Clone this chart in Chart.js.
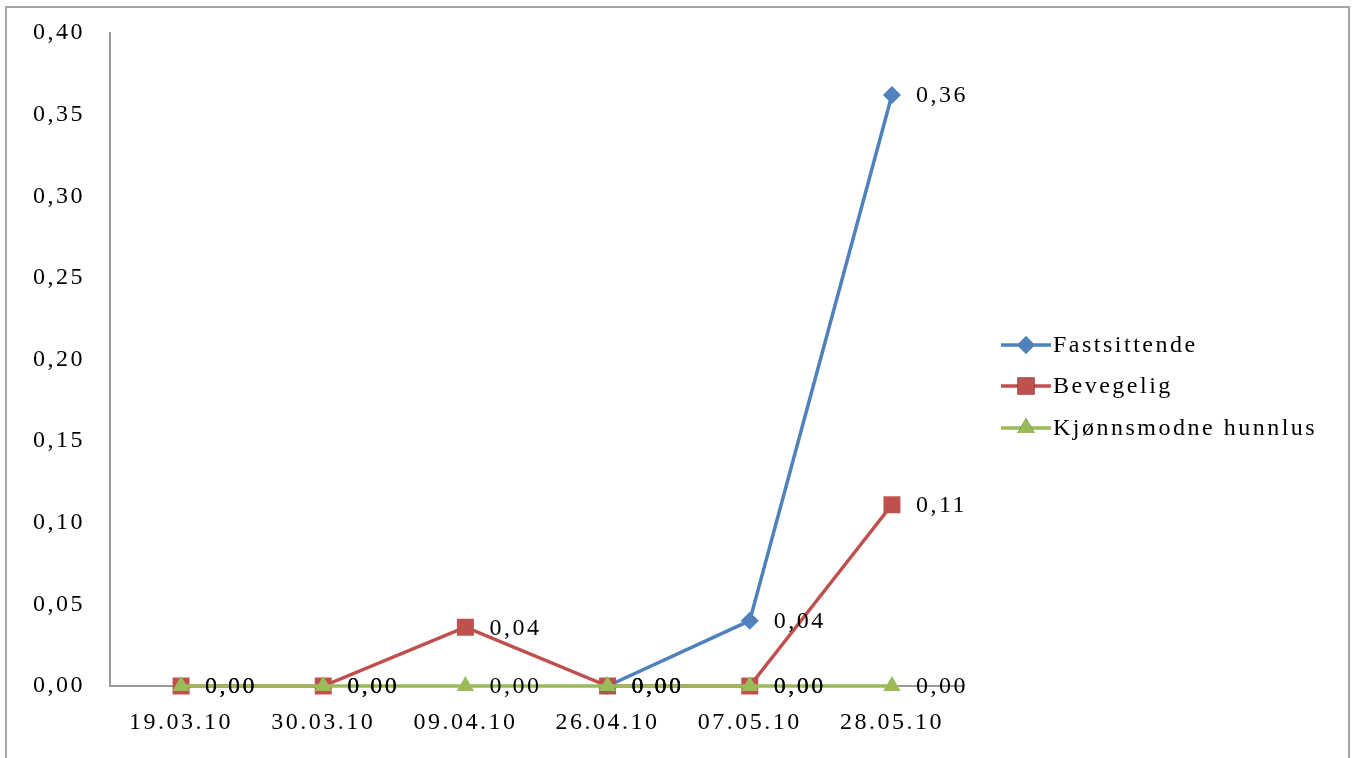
<!DOCTYPE html>
<html>
<head>
<meta charset="utf-8">
<script src="https://cdn.jsdelivr.net/npm/chart.js@4/dist/chart.umd.min.js"></script>
<style>
  html, body { margin: 0; padding: 0; background: #fff; }
  #wrap { position: relative; width: 1357px; height: 758px; }
  #frame { position: absolute; left: 5px; top: 6px; width: 1345px; height: 760px; border: 2px solid #a6a6a6; box-sizing: border-box; pointer-events: none; }
</style>
</head>
<body>
<div id="wrap">
  <canvas id="chart" width="1357" height="758"></canvas>
  <div id="frame"></div>
</div>
<script>
const dates = ["19.03.10", "30.03.10", "09.04.10", "26.04.10", "07.05.10", "28.05.10"];
const fastsittende = [null, null, null, 0, 0.04, 0.362];
const bevegelig = [0, 0, 0.036, 0, 0, 0.111];
const kjonnsmodne = [0, 0, 0, 0, 0, 0];
const seriesNames = ["Fastsittende", "Bevegelig", "Kjønnsmodne hunnlus"];
const colors = ["#4f81bd", "#c0504d", "#9bbb59"];
const markers = ["rectRot", "rect", "triangle"];
const markerSize = [9, 12, 10];

const FONT = "'Liberation Serif', 'Times New Roman', serif";
const SPACING = "2.5px";
const fmt = (v) => v.toFixed(2).replace(".", ",");

// the original text is rendered wide, so letter spacing is applied to all canvas text
const wideText = {
  id: "wideText",
  beforeInit(chart) { chart.ctx.letterSpacing = SPACING; },
  beforeDraw(chart) { chart.ctx.letterSpacing = SPACING; },
};

// value labels to the right of each point
const valueLabels = {
  id: "valueLabels",
  afterDatasetsDraw(chart) {
    const ctx = chart.ctx;
    ctx.save();
    ctx.letterSpacing = SPACING;
    ctx.font = "24px " + FONT;
    ctx.fillStyle = "#000";
    ctx.textAlign = "left";
    ctx.textBaseline = "middle";
    chart.data.datasets.forEach((ds, i) => {
      chart.getDatasetMeta(i).data.forEach((pt, j) => {
        if (ds.data[j] == null) return;
        ctx.fillText(fmt(ds.data[j]), pt.x + 24, pt.y + 1);
      });
    });
    ctx.restore();
  }
};

// legend drawn like the spreadsheet one: line with marker, then name
const sideLegend = {
  id: "sideLegend",
  afterDraw(chart) {
    const ctx = chart.ctx;
    const x0 = 1001, rowY = [345, 386, 428];
    ctx.save();
    ctx.letterSpacing = SPACING;
    seriesNames.forEach((name, i) => {
      const y = rowY[i];
      ctx.strokeStyle = colors[i];
      ctx.lineWidth = 3.5;
      ctx.beginPath();
      ctx.moveTo(x0, y);
      ctx.lineTo(x0 + 50, y);
      ctx.stroke();
      Chart.helpers.drawPoint(ctx, { pointStyle: markers[i], radius: markerSize[i], borderWidth: 0 }, x0 + 25, y);
      ctx.fillStyle = colors[i];
      ctx.fill();
      ctx.fillStyle = "#000";
      ctx.font = "24px " + FONT;
      ctx.textBaseline = "middle";
      ctx.fillText(name, x0 + 52, y + 1);
    });
    ctx.restore();
  }
};

const datasets = [fastsittende, bevegelig, kjonnsmodne].map((vals, i) => ({
  label: seriesNames[i],
  data: vals,
  borderColor: colors[i],
  backgroundColor: colors[i],
  borderWidth: 3.5,
  pointStyle: markers[i],
  pointRadius: markerSize[i],
  pointBorderWidth: 0,
  order: 2 - i,
  clip: false,
  tension: 0,
}));

new Chart(document.getElementById("chart").getContext("2d"), {
  type: "line",
  data: { labels: dates, datasets },
  plugins: [wideText, valueLabels, sideLegend],
  options: {
    responsive: false,
    animation: false,
    layout: { padding: { left: 0, top: 33, right: 394, bottom: 0 } },
    plugins: { legend: { display: false }, tooltip: { enabled: false } },
    scales: {
      x: {
        offset: true,
        grid: { display: false, drawTicks: false },
        border: { color: "#9a9a9a", width: 2 },
        ticks: { color: "#000", font: { family: FONT, size: 24 }, padding: 22, maxRotation: 0 },
        afterFit: (s) => { s.height = 72; s.paddingLeft = 0; s.paddingRight = 0; },
      },
      y: {
        min: 0,
        max: 0.4,
        grid: { display: false, drawTicks: false },
        border: { color: "#9a9a9a", width: 2 },
        ticks: { stepSize: 0.05, color: "#000", font: { family: FONT, size: 24 }, padding: 25, callback: (v) => fmt(v) },
        afterFit: (s) => { s.width = 110; s.paddingTop = 0; s.paddingBottom = 0; },
      },
    },
  },
});
</script>
</body>
</html>
